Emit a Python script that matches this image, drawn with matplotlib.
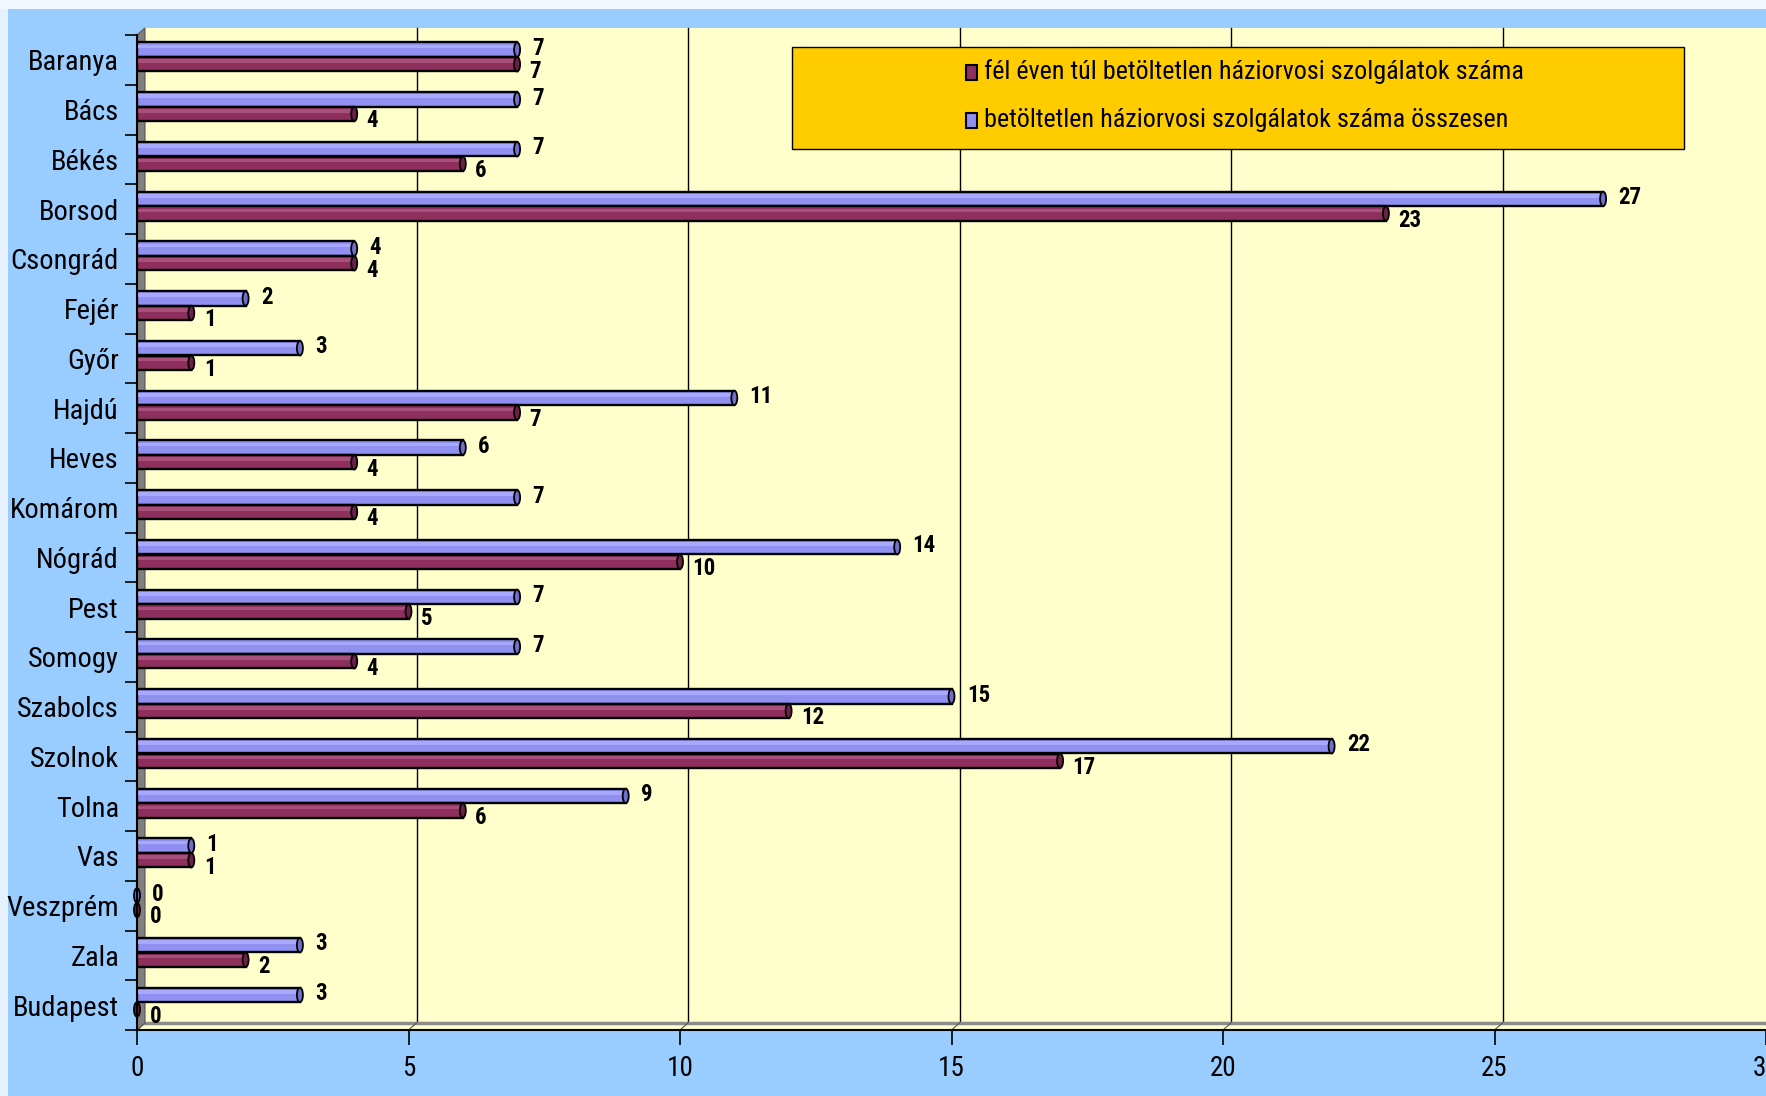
import matplotlib
matplotlib.use("Agg")
import matplotlib.pyplot as plt
from matplotlib.patches import Rectangle, Polygon, Ellipse
from matplotlib.lines import Line2D
from matplotlib.transforms import offset_copy, IdentityTransform
import numpy as np

categories = ["Baranya", "Bács", "Békés", "Borsod", "Csongrád", "Fejér", "Győr",
              "Hajdú", "Heves", "Komárom", "Nógrád", "Pest", "Somogy", "Szabolcs",
              "Szolnok", "Tolna", "Vas", "Veszprém", "Zala", "Budapest"]
total_vals = [7, 7, 7, 27, 4, 2, 3, 11, 6, 7, 14, 7, 7, 15, 22, 9, 1, 0, 3, 3]
half_year_vals = [7, 4, 6, 23, 4, 1, 1, 7, 4, 4, 10, 5, 4, 12, 17, 6, 1, 0, 2, 0]
series_names = ["fél éven túl betöltetlen háziorvosi szolgálatok száma",
                "betöltetlen háziorvosi szolgálatok száma összesen"]
x_ticks = [0, 5, 10, 15, 20, 25, 30]

FONT = ["Roboto Condensed", "Liberation Sans", "DejaVu Sans"]
plt.rcParams["font.family"] = FONT

W, H = 1766, 1096
fig = plt.figure(figsize=(W / 100, H / 100), dpi=100)
fig.patch.set_facecolor("#99CCFF")

# light strips at the very top and left
fig.add_artist(Rectangle((0, 0), 8 / W, 1, transform=fig.transFigure,
                         facecolor="#E6F2FF", edgecolor="none", zorder=0))
fig.add_artist(Rectangle((0, 1 - 9 / H), 1, 9 / H, transform=fig.transFigure,
                         facecolor="#F2F8FF", edgecolor="none", zorder=0))

x0 = 137
ax_left = x0 / W
ax_bottom = 66 / H
ax_h = 995 / H
ax = fig.add_axes([ax_left, ax_bottom, (W - x0) / W, ax_h])
ax.set_xlim(0, 30)
ax.set_ylim(19.5, -0.5)
ax.patch.set_visible(False)

DX, DY = 8, 7
back = offset_copy(ax.transData, fig=fig, x=DX, y=DY, units="dots")

# back wall
ax.add_patch(Rectangle((0, -0.5), 32, 20, transform=back, facecolor="#FFFFCC",
                       edgecolor="none", zorder=0, clip_on=False))

# gridlines on back wall
for v in x_ticks[1:-1]:
    ax.add_line(Line2D([v, v], [-0.5, 19.5], transform=back, color="black",
                       lw=1.0, zorder=1, clip_on=False))

# floor and left wall in display coordinates
fig.canvas.draw()
ident = IdentityTransform()
fl = ax.transData.transform([(0, 19.5), (30, 19.5)])
tl = ax.transData.transform([(0, -0.5)])[0]
ax.add_patch(Polygon([fl[0], fl[1], fl[1] + [DX, DY], fl[0] + [DX, DY]], closed=True,
                     transform=ident, facecolor="#FFFFCC", edgecolor="none",
                     zorder=1, clip_on=False))
ax.add_line(Line2D([fl[0][0] + DX, fl[1][0] + DX], [fl[0][1] + DY, fl[1][1] + DY],
                   transform=ident, color="#8C8C8C", lw=2.5, zorder=1.5, clip_on=False))
for v in x_ticks:
    p = ax.transData.transform([(v, 19.5)])[0]
    ax.add_line(Line2D([p[0], p[0] + DX], [p[1], p[1] + DY], transform=ident,
                       color="#555555", lw=0.8, zorder=1.5, clip_on=False))
ax.add_patch(Polygon([fl[0], tl, tl + [DX, DY], fl[0] + [DX, DY]], closed=True,
                     transform=ident, facecolor="#808080", edgecolor="#555555",
                     lw=0.8, zorder=2, clip_on=False))

# bars
y = np.arange(len(categories))
bh = 0.29
c_tot, c_tot_d, c_tot_l = "#9090F0", "#7070C8", "#A8A8FF"
c_half, c_half_d, c_half_l = "#8E2F5E", "#6E2046", "#A8507C"
y_tot = y - 0.205
y_half = y + 0.088
ppx = 54.3  # pixels per data unit in x

def draw_bars(vals, ys, col, dark, light):
    ax.barh(ys, vals, height=bh, color=col, edgecolor="black", lw=1.7, zorder=3)
    ax.barh(ys - bh * 0.22, vals, height=bh * 0.25, color=light, edgecolor="none",
            zorder=3.1)
    for v, yy in zip(vals, ys):
        ax.add_patch(Ellipse((v, yy), width=6 / ppx, height=bh, facecolor=dark,
                             edgecolor="black", lw=1.3, zorder=3.2, clip_on=False))

draw_bars(total_vals, y_tot, c_tot, c_tot_d, c_tot_l)
draw_bars(half_year_vals, y_half, c_half, c_half_d, c_half_l)

# value labels
for v, yy in zip(total_vals, y_tot):
    ax.annotate(str(v), (v, yy), xytext=(11, 1), textcoords="offset points",
                ha="left", va="center", fontsize=16.5, fontweight="bold", zorder=5)
for v, yy in zip(half_year_vals, y_half):
    ax.annotate(str(v), (v, yy), xytext=(9, -5), textcoords="offset points",
                ha="left", va="center", fontsize=16.5, fontweight="bold", zorder=5)

# axes styling
for s in ["top", "right"]:
    ax.spines[s].set_visible(False)
for s in ["left", "bottom"]:
    ax.spines[s].set_color("black")
    ax.spines[s].set_linewidth(1.5)
    ax.spines[s].set_zorder(4)
ax.set_yticks(y)
ax.set_yticklabels(categories, fontsize=20.5)
ax.set_yticks(np.arange(-0.5, 20, 1), minor=True)
ax.tick_params(axis="y", which="major", length=0, pad=13)
ax.tick_params(axis="y", which="minor", length=9, width=1.2, color="black")
ax.set_xticks(x_ticks)
ax.set_xticklabels([str(t) for t in x_ticks], fontsize=19.5)
ax.tick_params(axis="x", which="major", length=11, width=1.2, pad=7)

# legend box
lx0, ly0, lx1, ly1 = 792, 47, 1684, 149
fig.add_artist(Rectangle((lx0 / W, 1 - ly1 / H), (lx1 - lx0) / W, (ly1 - ly0) / H,
                         transform=fig.transFigure, facecolor="#FFCC00",
                         edgecolor="black", lw=1.0, zorder=6))
for name, col, yc in [(series_names[0], c_half, 72), (series_names[1], c_tot, 120)]:
    fig.add_artist(Rectangle((966 / W, 1 - (yc + 8) / H), 11 / W, 15 / H,
                             transform=fig.transFigure, facecolor=col,
                             edgecolor="black", lw=1.5, zorder=7))
    fig.text(984 / W, 1 - yc / H, name, fontsize=18.8, ha="left", va="center", zorder=7)

fig.savefig("out.png", dpi=100, facecolor=fig.get_facecolor())
